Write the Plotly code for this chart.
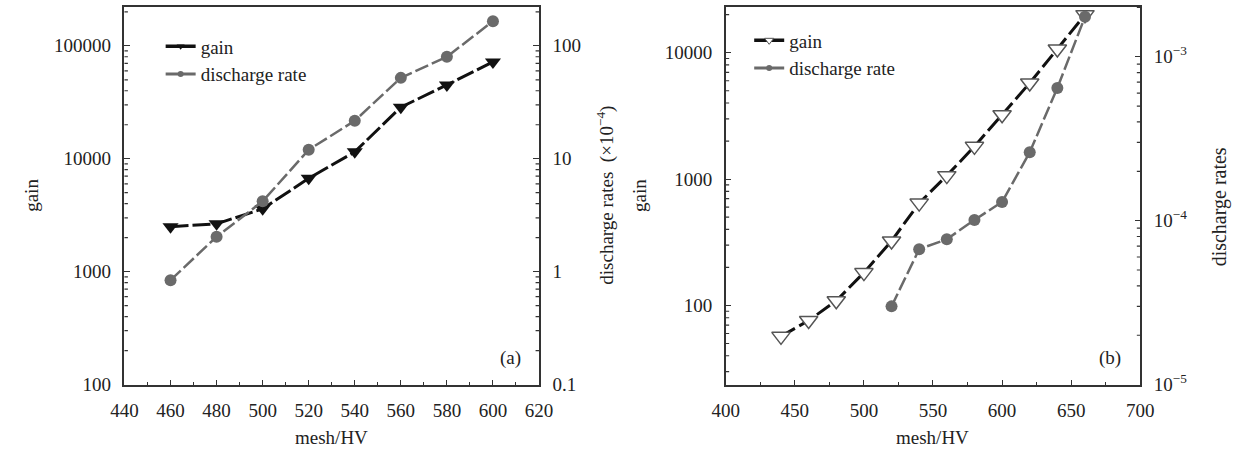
import plotly.graph_objects as go

# ---------------- data ----------------
mesh_a = [460, 480, 500, 520, 540, 560, 580, 600]
gain_a = [2500, 2650, 3600, 6700, 11500, 28600, 45000, 72000]
discharge_a = [0.84, 2.04, 4.2, 12.0, 21.7, 52, 80, 165]  # x10^-4

mesh_b = [440, 460, 480, 500, 520, 540, 560, 580, 600, 620, 640, 660]
gain_b = [57, 76, 109, 182, 324, 646, 1065, 1815, 3230, 5760, 10700, 20000]
mesh_b_dis = [520, 540, 560, 580, 600, 620, 640, 660]
discharge_b = [3.0e-5, 6.7e-5, 7.7e-5, 1.01e-4, 1.30e-4, 2.61e-4, 6.45e-4, 1.75e-3]

xticks_a = [440, 460, 480, 500, 520, 540, 560, 580, 600, 620]
yticks_a = [100, 1000, 10000, 100000]
yticks_a_text = ["100", "1000", "10000", "100000"]
y2ticks_a = [0.1, 1, 10, 100]
y2ticks_a_text = ["0.1", "1", "10", "100"]
xticks_b = [400, 450, 500, 550, 600, 650, 700]
yticks_b = [100, 1000, 10000]
yticks_b_text = ["100", "1000", "10000"]
y2ticks_b = [1e-5, 1e-4, 1e-3]
y2ticks_b_text = ["10<sup>\u22125</sup>", "10<sup>\u22124</sup>", "10<sup>\u22123</sup>"]
minor_digits = [2, 3, 4, 5, 6, 7, 8, 9]

W, H = 1253, 461
FONT = "Liberation Serif"
FS = 19
BLACK = "#111111"
GRAY = "#6a6a6a"
AX = "#333333"


def px(x):
    return x / W


def py(y):
    return 1 - y / H


def minor_vals(e0, e1, lo, hi):
    return [d * 10.0 ** e for e in range(e0, e1 + 1) for d in minor_digits if lo < d * 10.0 ** e < hi]


fig = go.Figure()

# panel (a)
fig.add_trace(go.Scatter(x=mesh_a, y=gain_a, xaxis="x", yaxis="y", mode="lines+markers",
                         line=dict(color=BLACK, width=3, dash="18px,4px"),
                         marker=dict(symbol="triangle-down", size=14, color=BLACK),
                         showlegend=False))
fig.add_trace(go.Scatter(x=mesh_a, y=discharge_a, xaxis="x", yaxis="y2", mode="lines+markers",
                         line=dict(color=GRAY, width=2.5, dash="14px,4px"),
                         marker=dict(symbol="circle", size=12, color=GRAY),
                         showlegend=False))
# panel (b)
fig.add_trace(go.Scatter(x=mesh_b, y=gain_b, xaxis="x2", yaxis="y3", mode="lines+markers",
                         line=dict(color=BLACK, width=3, dash="16px,5px"),
                         marker=dict(symbol="triangle-down", size=16, color="white",
                                     line=dict(color="#555555", width=1.5)),
                         showlegend=False))
fig.add_trace(go.Scatter(x=mesh_b_dis, y=discharge_b, xaxis="x2", yaxis="y4", mode="lines+markers",
                         line=dict(color=GRAY, width=2.5, dash="14px,4px"),
                         marker=dict(symbol="circle", size=12, color=GRAY),
                         showlegend=False))

# legend entries (no data, only legend symbols)
fig.add_trace(go.Scatter(x=[None], y=[None], xaxis="x", yaxis="y", mode="lines+markers", name="gain",
                         line=dict(color=BLACK, width=3.5, dash="solid"),
                         marker=dict(symbol="triangle-down", size=7, color=BLACK), legend="legend"))
fig.add_trace(go.Scatter(x=[None], y=[None], xaxis="x", yaxis="y", mode="lines+markers",
                         name="discharge rate",
                         line=dict(color=GRAY, width=3, dash="solid"),
                         marker=dict(symbol="circle", size=6, color=GRAY), legend="legend"))
fig.add_trace(go.Scatter(x=[None], y=[None], xaxis="x2", yaxis="y3", mode="lines+markers", name="gain",
                         line=dict(color=BLACK, width=3.5, dash="solid"),
                         marker=dict(symbol="triangle-down", size=8, color="white",
                                     line=dict(color="#555555", width=1)), legend="legend2"))
fig.add_trace(go.Scatter(x=[None], y=[None], xaxis="x2", yaxis="y3", mode="lines+markers",
                         name="discharge rate",
                         line=dict(color=GRAY, width=3, dash="solid"),
                         marker=dict(symbol="circle", size=6, color=GRAY), legend="legend2"))

tickfont = dict(family=FONT, size=FS, color="#222222")
axline = dict(showline=True, linecolor=AX, linewidth=1.5, showgrid=False, zeroline=False,
              ticks="inside", tickcolor=AX, tickfont=tickfont, ticklabelstandoff=8)

ydom = [py(394), py(7)]

fig.update_layout(
    width=W, height=H, autosize=False,
    margin=dict(l=0, r=0, t=0, b=0),
    paper_bgcolor="white", plot_bgcolor="white",
    font=dict(family=FONT, size=FS, color="#222222"),
    xaxis=dict(domain=[px(113), px(537)], anchor="y", range=[440, 620], tickmode="array",
               tickvals=xticks_a, ticklen=5, mirror=True,
               minor=dict(ticks="inside", dtick=10, ticklen=3, tickcolor=AX, showgrid=False),
               **axline),
    yaxis=dict(domain=ydom, anchor="x", type="log", range=[2, 5.345], tickmode="array",
               tickvals=yticks_a, ticktext=yticks_a_text, ticklen=6, **axline),
    yaxis2=dict(overlaying="y", anchor="x", side="right", type="log", range=[-1, 2.345],
                tickmode="array", tickvals=y2ticks_a, ticktext=y2ticks_a_text, ticklen=6,
                **axline),
    xaxis2=dict(domain=[px(728), px(1152)], anchor="y3", range=[400, 700], tickmode="array",
                tickvals=xticks_b, ticklen=5, mirror=True,
                minor=dict(ticks="inside", dtick=25, ticklen=3, tickcolor=AX, showgrid=False),
                **axline),
    yaxis3=dict(domain=ydom, anchor="x2", type="log", range=[1.374, 4.363], tickmode="array",
                tickvals=yticks_b, ticktext=yticks_b_text, ticklen=6, **axline),
    yaxis4=dict(overlaying="y3", anchor="x2", side="right", type="log", range=[-5, -2.696],
                tickmode="array", tickvals=y2ticks_b, ticktext=y2ticks_b_text, ticklen=6,
                **axline),
    legend=dict(x=px(150), y=py(28), xanchor="left", yanchor="top", bgcolor="rgba(0,0,0,0)",
                font=dict(family=FONT, size=FS, color="#222222"), itemwidth=30,
                tracegroupgap=0),
    legend2=dict(x=px(752), y=py(22), xanchor="left", yanchor="top", bgcolor="rgba(0,0,0,0)",
                 font=dict(family=FONT, size=FS, color="#222222"), itemwidth=30,
                 tracegroupgap=0),
)

# minor log ticks (inside) drawn as short shapes along each y axis
TL = 3.5 / 424
minor_specs = [
    ("x domain", "y", 0, TL, minor_vals(2, 5, 100, 10 ** 5.345)),
    ("x domain", "y2", 1, 1 - TL, minor_vals(-1, 2, 0.1, 10 ** 2.345)),
    ("x2 domain", "y3", 0, TL, minor_vals(1, 4, 10 ** 1.374, 10 ** 4.363)),
    ("x2 domain", "y4", 1, 1 - TL, minor_vals(-5, -3, 1e-5, 10 ** -2.696)),
]
for xr, yr, a0, a1, vals in minor_specs:
    for v in vals:
        fig.add_shape(type="line", xref=xr, yref=yr, x0=a0, x1=a1, y0=v, y1=v,
                      line=dict(color=AX, width=1.2), layer="above")

annots = [
    dict(text="gain", x=px(18), y=py(200), textangle=-90, size=FS),
    dict(text="mesh/HV", x=px(325), y=py(448), size=FS),
    dict(text="discharge rates  (\u00d710<sup>\u22124</sup>)", x=px(605), y=py(200), textangle=-90, size=FS),
    dict(text="(a)", x=px(508), y=py(367), size=FS),
    dict(text="gain", x=px(640), y=py(200), textangle=-90, size=FS),
    dict(text="mesh/HV", x=px(940), y=py(448), size=FS),
    dict(text="discharge rates", x=px(1234), y=py(212), textangle=-90, size=20),
    dict(text="(b)", x=px(1121), y=py(367), size=FS),
]
for a in annots:
    s = a.pop("size")
    fig.add_annotation(xref="paper", yref="paper", showarrow=False, xanchor="center", yanchor="middle",
                       font=dict(family=FONT, size=s, color="#222222"), **a)

fig.write_html("out.html")
